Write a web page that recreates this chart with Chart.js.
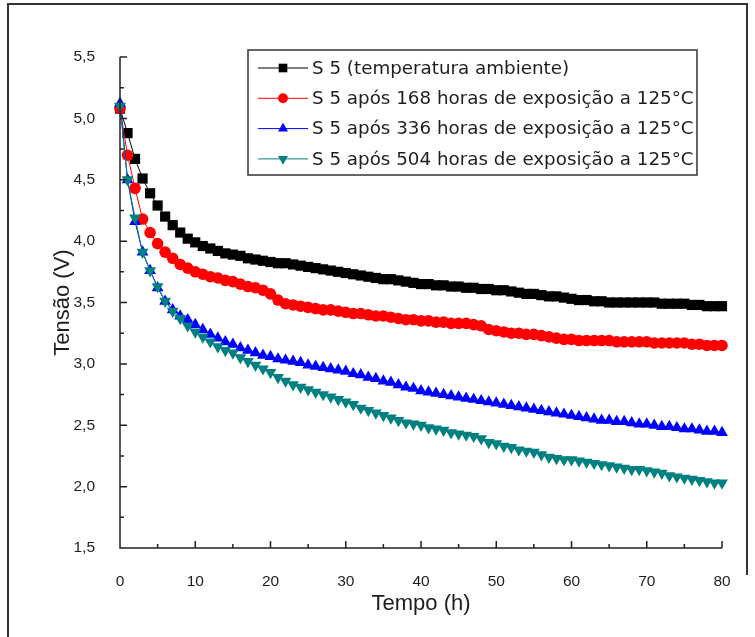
<!DOCTYPE html>
<html>
<head>
<meta charset="utf-8">
<script src="https://cdn.jsdelivr.net/npm/chart.js@4.4.1/dist/chart.umd.min.js"></script>
<style>
  html, body { margin: 0; padding: 0; background: #fff; }
  #wrap { position: relative; width: 755px; height: 637px; overflow: hidden; }
  #frame { position: absolute; left: 7px; top: 3px; width: 739px; height: 640px; border-left: 2px solid #333; border-top: 2px solid #333; }
  #frameR { position: absolute; left: 746px; top: 3px; width: 2px; height: 572px; background: #333; }
  canvas { position: absolute; left: 0; top: 0; }
</style>
</head>
<body>
<div id="wrap">
  <div id="frame"></div>
  <div id="frameR"></div>
  <canvas id="chart" width="755" height="637"></canvas>
</div>
<script>
// tempo (h)
const tempo = [];
for (let h = 0; h <= 80; h++) tempo.push(h);

const s5Ambiente = [5.08, 4.88, 4.67, 4.51, 4.39, 4.29, 4.20, 4.13, 4.07, 4.02,
  3.99, 3.96, 3.94, 3.92, 3.90, 3.89, 3.88, 3.86, 3.85, 3.84,
  3.83, 3.82, 3.82, 3.81, 3.80, 3.79, 3.78, 3.77, 3.76, 3.75,
  3.74, 3.73, 3.72, 3.71, 3.70, 3.69, 3.69, 3.68, 3.67, 3.66,
  3.65, 3.65, 3.64, 3.64, 3.63, 3.63, 3.62, 3.62, 3.61, 3.61,
  3.60, 3.60, 3.59, 3.58, 3.57, 3.57, 3.56, 3.55, 3.55, 3.54,
  3.53, 3.52, 3.52, 3.51, 3.51, 3.50, 3.50, 3.50, 3.50, 3.50,
  3.50, 3.50, 3.49, 3.49, 3.49, 3.49, 3.48, 3.48, 3.47, 3.47, 3.47];

const s5h168 = [5.08, 4.70, 4.43, 4.18, 4.07, 3.98, 3.91, 3.86, 3.81, 3.78,
  3.75, 3.73, 3.71, 3.70, 3.68, 3.67, 3.65, 3.63, 3.62, 3.60,
  3.57, 3.52, 3.49, 3.48, 3.47, 3.46, 3.45, 3.44, 3.44, 3.43,
  3.42, 3.41, 3.41, 3.40, 3.39, 3.39, 3.38, 3.37, 3.36, 3.36,
  3.35, 3.35, 3.34, 3.34, 3.33, 3.33, 3.33, 3.32, 3.31, 3.28,
  3.27, 3.26, 3.25, 3.25, 3.24, 3.24, 3.23, 3.22, 3.21, 3.20,
  3.20, 3.19, 3.19, 3.19, 3.19, 3.19, 3.18, 3.18, 3.18, 3.18,
  3.18, 3.17, 3.17, 3.17, 3.17, 3.17, 3.16, 3.16, 3.15, 3.15, 3.15];

const s5h336 = [5.12, 4.50, 4.16, 3.91, 3.76, 3.62, 3.51, 3.44, 3.39, 3.36,
  3.32, 3.28, 3.24, 3.21, 3.18, 3.16, 3.13, 3.11, 3.09, 3.07,
  3.06, 3.04, 3.03, 3.02, 3.01, 2.99, 2.98, 2.97, 2.96, 2.95,
  2.94, 2.92, 2.91, 2.89, 2.88, 2.86, 2.85, 2.83, 2.81, 2.80,
  2.78, 2.77, 2.76, 2.75, 2.74, 2.73, 2.72, 2.71, 2.70, 2.69,
  2.68, 2.67, 2.66, 2.65, 2.64, 2.63, 2.62, 2.61, 2.60, 2.59,
  2.58, 2.57, 2.56, 2.55, 2.54, 2.54, 2.53, 2.53, 2.52, 2.51,
  2.51, 2.50, 2.49, 2.49, 2.48, 2.47, 2.47, 2.46, 2.45, 2.45, 2.44];

const s5h504 = [5.10, 4.50, 4.19, 3.91, 3.76, 3.63, 3.51, 3.43, 3.37, 3.31,
  3.26, 3.22, 3.18, 3.14, 3.11, 3.09, 3.05, 3.02, 2.99, 2.96,
  2.93, 2.89, 2.86, 2.83, 2.81, 2.79, 2.77, 2.75, 2.73, 2.71,
  2.69, 2.67, 2.64, 2.62, 2.60, 2.58, 2.56, 2.54, 2.52, 2.51,
  2.50, 2.48, 2.47, 2.46, 2.44, 2.43, 2.42, 2.41, 2.39, 2.36,
  2.35, 2.33, 2.32, 2.30, 2.29, 2.28, 2.26, 2.24, 2.23, 2.22,
  2.22, 2.21, 2.20, 2.19, 2.18, 2.17, 2.16, 2.15, 2.14, 2.14,
  2.13, 2.12, 2.11, 2.09, 2.08, 2.07, 2.06, 2.05, 2.04, 2.03, 2.03];

const nomes = [
  'S 5 (temperatura ambiente)',
  'S 5 após 168 horas de exposição a 125°C',
  'S 5 após 336 horas de exposição a 125°C',
  'S 5 após 504 horas de exposição a 125°C'
];
const xTicksMaj = [0, 10, 20, 30, 40, 50, 60, 70, 80];
const yTicksMaj = [1.5, 2.0, 2.5, 3.0, 3.5, 4.0, 4.5, 5.0, 5.5];

function pts(ys) { return tempo.map((t, i) => ({ x: t, y: ys[i] })); }

const txtColor = '#1e1e1e';

// ticks para dentro + eixos + titulos + legenda
const origemPlugin = {
  id: 'origem',
  afterDraw(chart) {
    const ctx = chart.ctx;
    const xs = chart.scales.x, ys = chart.scales.y;
    const a = chart.chartArea;
    ctx.save();
    ctx.strokeStyle = '#222';
    ctx.lineWidth = 1.5;
    ctx.beginPath();
    ctx.moveTo(a.left, a.top); ctx.lineTo(a.left, a.bottom); ctx.lineTo(a.right, a.bottom);
    for (let v = 0; v <= 80; v += 5) {
      const px = xs.getPixelForValue(v);
      const len = v % 10 === 0 ? 7 : 4;
      ctx.moveTo(px, a.bottom); ctx.lineTo(px, a.bottom - len);
    }
    for (let v = 1.5; v <= 5.5001; v += 0.25) {
      const py = ys.getPixelForValue(v);
      const len = Math.abs((v * 2) - Math.round(v * 2)) < 0.01 ? 7 : 4;
      ctx.moveTo(a.left, py); ctx.lineTo(a.left + len, py);
    }
    ctx.stroke();

    ctx.fillStyle = txtColor;
    ctx.font = '22px "Liberation Sans", Arial, sans-serif';
    ctx.textAlign = 'center';
    ctx.textBaseline = 'middle';
    ctx.fillText('Tempo (h)', (a.left + a.right) / 2, 604);
    ctx.save();
    ctx.translate(63, (a.top + a.bottom) / 2);
    ctx.rotate(-Math.PI / 2);
    ctx.fillText('Tensão (V)', 0, 0);
    ctx.restore();

    // legenda
    const bx = 248, by = 50, bw = 449, bh = 125;
    ctx.lineWidth = 1.5;
    ctx.strokeStyle = '#333';
    ctx.strokeRect(bx, by, bw, bh);
    ctx.font = '18.3px "DejaVu Sans", Verdana, sans-serif';
    ctx.textAlign = 'left';
    chart.data.datasets.forEach((ds, i) => {
      const yy = by + 18 + i * 30.3;
      ctx.strokeStyle = ds.borderColor;
      ctx.lineWidth = 1;
      ctx.beginPath(); ctx.moveTo(258, yy); ctx.lineTo(308, yy); ctx.stroke();
      ctx.fillStyle = ds.pointBackgroundColor;
      Chart.helpers.drawPoint(ctx, { pointStyle: ds.pointStyle, rotation: ds.pointRotation || 0, radius: ds.pointRadius * 0.85, borderWidth: 0 }, 283, yy);
      ctx.fillStyle = txtColor;
      ctx.fillText(ds.label, 312, yy + 1);
    });
    ctx.restore();
  }
};

function serie(label, ys, cor, estilo, raio, rot, ordem) {
  return {
    label: label,
    data: pts(ys),
    borderColor: cor,
    borderWidth: 1,
    pointBackgroundColor: cor,
    pointBorderColor: cor,
    pointBorderWidth: 0,
    pointStyle: estilo,
    pointRadius: raio,
    pointRotation: rot,
    order: ordem,
    clip: false
  };
}

new Chart(document.getElementById('chart').getContext('2d'), {
  type: 'line',
  data: {
    datasets: [
      serie(nomes[0], s5Ambiente, '#000000', 'rect', 7.2, 0, 4),
      serie(nomes[1], s5h168, '#ff0000', 'circle', 5.8, 0, 3),
      serie(nomes[2], s5h336, '#0000ff', 'triangle', 6.8, 0, 2),
      serie(nomes[3], s5h504, '#008080', 'triangle', 6.8, 180, 1)
    ]
  },
  options: {
    responsive: false,
    animation: false,
    layout: { padding: { left: 0, top: 57, right: 33, bottom: 0 } },
    plugins: { legend: { display: false }, tooltip: { enabled: false } },
    scales: {
      x: {
        type: 'linear', min: 0, max: 80,
        afterBuildTicks: s => { s.ticks = xTicksMaj.map(v => ({ value: v })); },
        afterFit: s => { s.height = 89; },
        grid: { display: false },
        border: { display: false },
        ticks: { color: txtColor, font: { family: '"Liberation Sans", Arial, sans-serif', size: 15.5 }, padding: 16, maxRotation: 0 }
      },
      y: {
        type: 'linear', min: 1.5, max: 5.5,
        afterBuildTicks: s => { s.ticks = yTicksMaj.map(v => ({ value: v })); },
        afterFit: s => { s.width = 120; },
        grid: { display: false },
        border: { display: false },
        ticks: { color: txtColor, font: { family: '"Liberation Sans", Arial, sans-serif', size: 15.5 }, padding: 17,
          callback: v => v.toFixed(1).replace('.', ',') }
      }
    }
  },
  plugins: [origemPlugin]
});
</script>
</body>
</html>
